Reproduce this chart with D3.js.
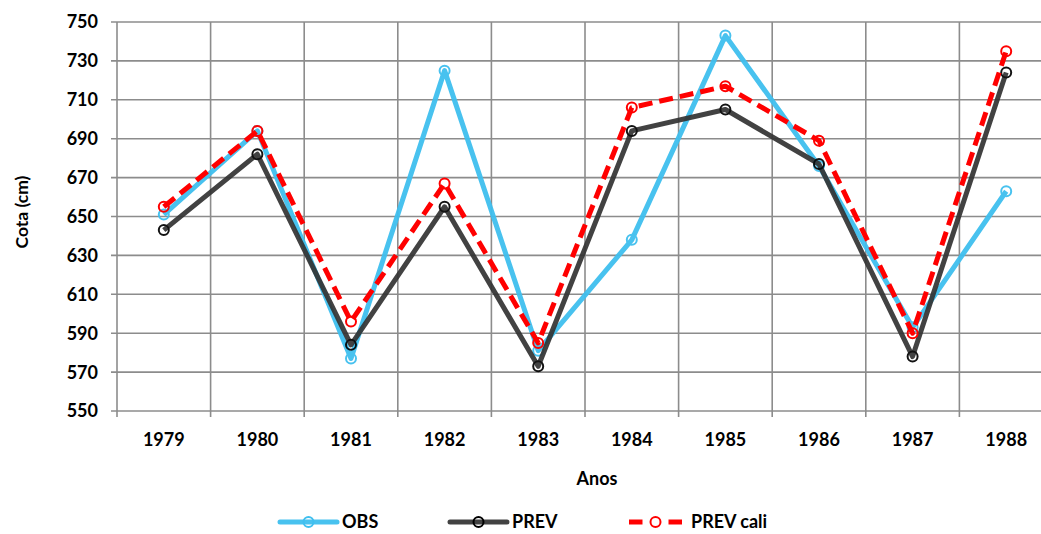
<!DOCTYPE html>
<html>
<head>
<meta charset="utf-8">
<script src="https://cdn.jsdelivr.net/npm/d3@7/dist/d3.min.js"></script>
<style>
  html, body { margin: 0; padding: 0; background: #fff; }
  svg { display: block; }
  text { font-family: Lato, "Open Sans", sans-serif; font-weight: bold; fill: #000; }
</style>
</head>
<body>
<svg id="chart" width="1041" height="534"></svg>
<script>
// Anual water level (cm): observed vs. forecast vs. calibrated forecast
const anos = ["1979","1980","1981","1982","1983","1984","1985","1986","1987","1988"];
const obs      = [651, 694, 577, 725, 581, 638, 743, 676, 593, 663];
const prev     = [643, 682, 584, 655, 573, 694, 705, 677, 578, 724];
const prevCali = [655, 694, 596, 667, 585, 706, 717, 689, 590, 735];
const yTicks   = [550, 570, 590, 610, 630, 650, 670, 690, 710, 730, 750];

const series = [
  { name: "OBS",       values: obs,      color: "#3fbfef", dash: null,   opacity: 0.95 },
  { name: "PREV",      values: prev,     color: "#333333", dash: null,   opacity: 0.92 },
  { name: "PREV cali", values: prevCali, color: "#ff0000", dash: "14,7", opacity: 1 }
];

const svg = d3.select("#chart");
const plotLeft = 117, plotRight = 1053, plotTop = 22, plotBottom = 411;

const x = d3.scaleBand().domain(anos).range([plotLeft, plotRight]).paddingInner(0).paddingOuter(0);
const y = d3.scaleLinear().domain([550, 750]).range([plotBottom, plotTop]);
const cx = d => x(d) + x.bandwidth() / 2;

const grid = "#8c8c8c";

// horizontal gridlines with left tick marks
svg.append("g")
  .selectAll("line").data(yTicks).join("line")
  .attr("x1", plotLeft - 6).attr("x2", plotRight)
  .attr("y1", d => y(d)).attr("y2", d => y(d))
  .attr("stroke", grid).attr("stroke-width", 1.6);

// vertical gridlines at category boundaries, extending below as ticks
const bounds = anos.map(a => x(a)).concat([plotRight]);
svg.append("g")
  .selectAll("line").data(bounds).join("line")
  .attr("x1", d => d).attr("x2", d => d)
  .attr("y1", plotTop).attr("y2", plotBottom + 6)
  .attr("stroke", grid).attr("stroke-width", 1.6);

// y axis labels
svg.append("g")
  .selectAll("text").data(yTicks).join("text")
  .attr("x", 98).attr("y", d => y(d)).attr("dy", "0.36em")
  .attr("text-anchor", "end").attr("font-size", 18)
  .text(d => d);

// x axis labels
svg.append("g")
  .selectAll("text").data(anos).join("text")
  .attr("x", d => cx(d)).attr("y", 446)
  .attr("text-anchor", "middle").attr("font-size", 18)
  .text(d => d);

// axis titles
svg.append("text")
  .attr("x", 597).attr("y", 485)
  .attr("text-anchor", "middle").attr("font-size", 18)
  .text("Anos");
svg.append("text")
  .attr("transform", "translate(28,212) rotate(-90)")
  .attr("text-anchor", "middle").attr("font-size", 17.5)
  .text("Cota (cm)");

// series lines and markers
const line = d3.line().x((d, i) => cx(anos[i])).y(d => y(d));
series.forEach(s => {
  const g = svg.append("g").attr("opacity", s.opacity);
  g.append("path")
    .attr("d", line(s.values))
    .attr("fill", "none")
    .attr("stroke", s.color)
    .attr("stroke-width", 5)
    .attr("stroke-linejoin", "round")
    .attr("stroke-dasharray", s.dash);
  g.selectAll("circle").data(s.values).join("circle")
    .attr("cx", (d, i) => cx(anos[i])).attr("cy", d => y(d))
    .attr("r", 5)
    .attr("fill", "none")
    .attr("stroke", s.name === "PREV" ? "#000" : s.color)
    .attr("stroke-width", 2);
});

// legend
const legendY = 522;
const legendItems = [
  { s: series[0], x0: 280, x1: 337, tx: 342 },
  { s: series[1], x0: 450, x1: 507, tx: 512 },
  { s: series[2], x0: 629, x1: 682, tx: 691 }
];
legendItems.forEach(it => {
  const g = svg.append("g");
  const mid = (it.x0 + it.x1) / 2;
  if (it.s.dash) {
    // dashed key: dash, marker, dash
    [[it.x0, mid - 13], [mid + 13, it.x1]].forEach(seg => {
      g.append("line")
        .attr("x1", seg[0]).attr("x2", seg[1])
        .attr("y1", legendY).attr("y2", legendY)
        .attr("stroke", it.s.color).attr("stroke-width", 5);
    });
  } else {
    g.append("line")
      .attr("x1", it.x0).attr("x2", it.x1)
      .attr("y1", legendY).attr("y2", legendY)
      .attr("stroke", it.s.color).attr("stroke-width", 5)
      .attr("stroke-linecap", "round")
      .attr("opacity", it.s.opacity);
  }
  g.append("circle")
    .attr("cx", mid).attr("cy", legendY).attr("r", 5)
    .attr("fill", it.s.dash ? "#fff" : "none")
    .attr("stroke", it.s.name === "PREV" ? "#000" : it.s.color)
    .attr("stroke-width", 2);
  g.append("text")
    .attr("x", it.tx).attr("y", legendY).attr("dy", "0.36em")
    .attr("font-size", 18)
    .text(it.s.name);
});
</script>
</body>
</html>
